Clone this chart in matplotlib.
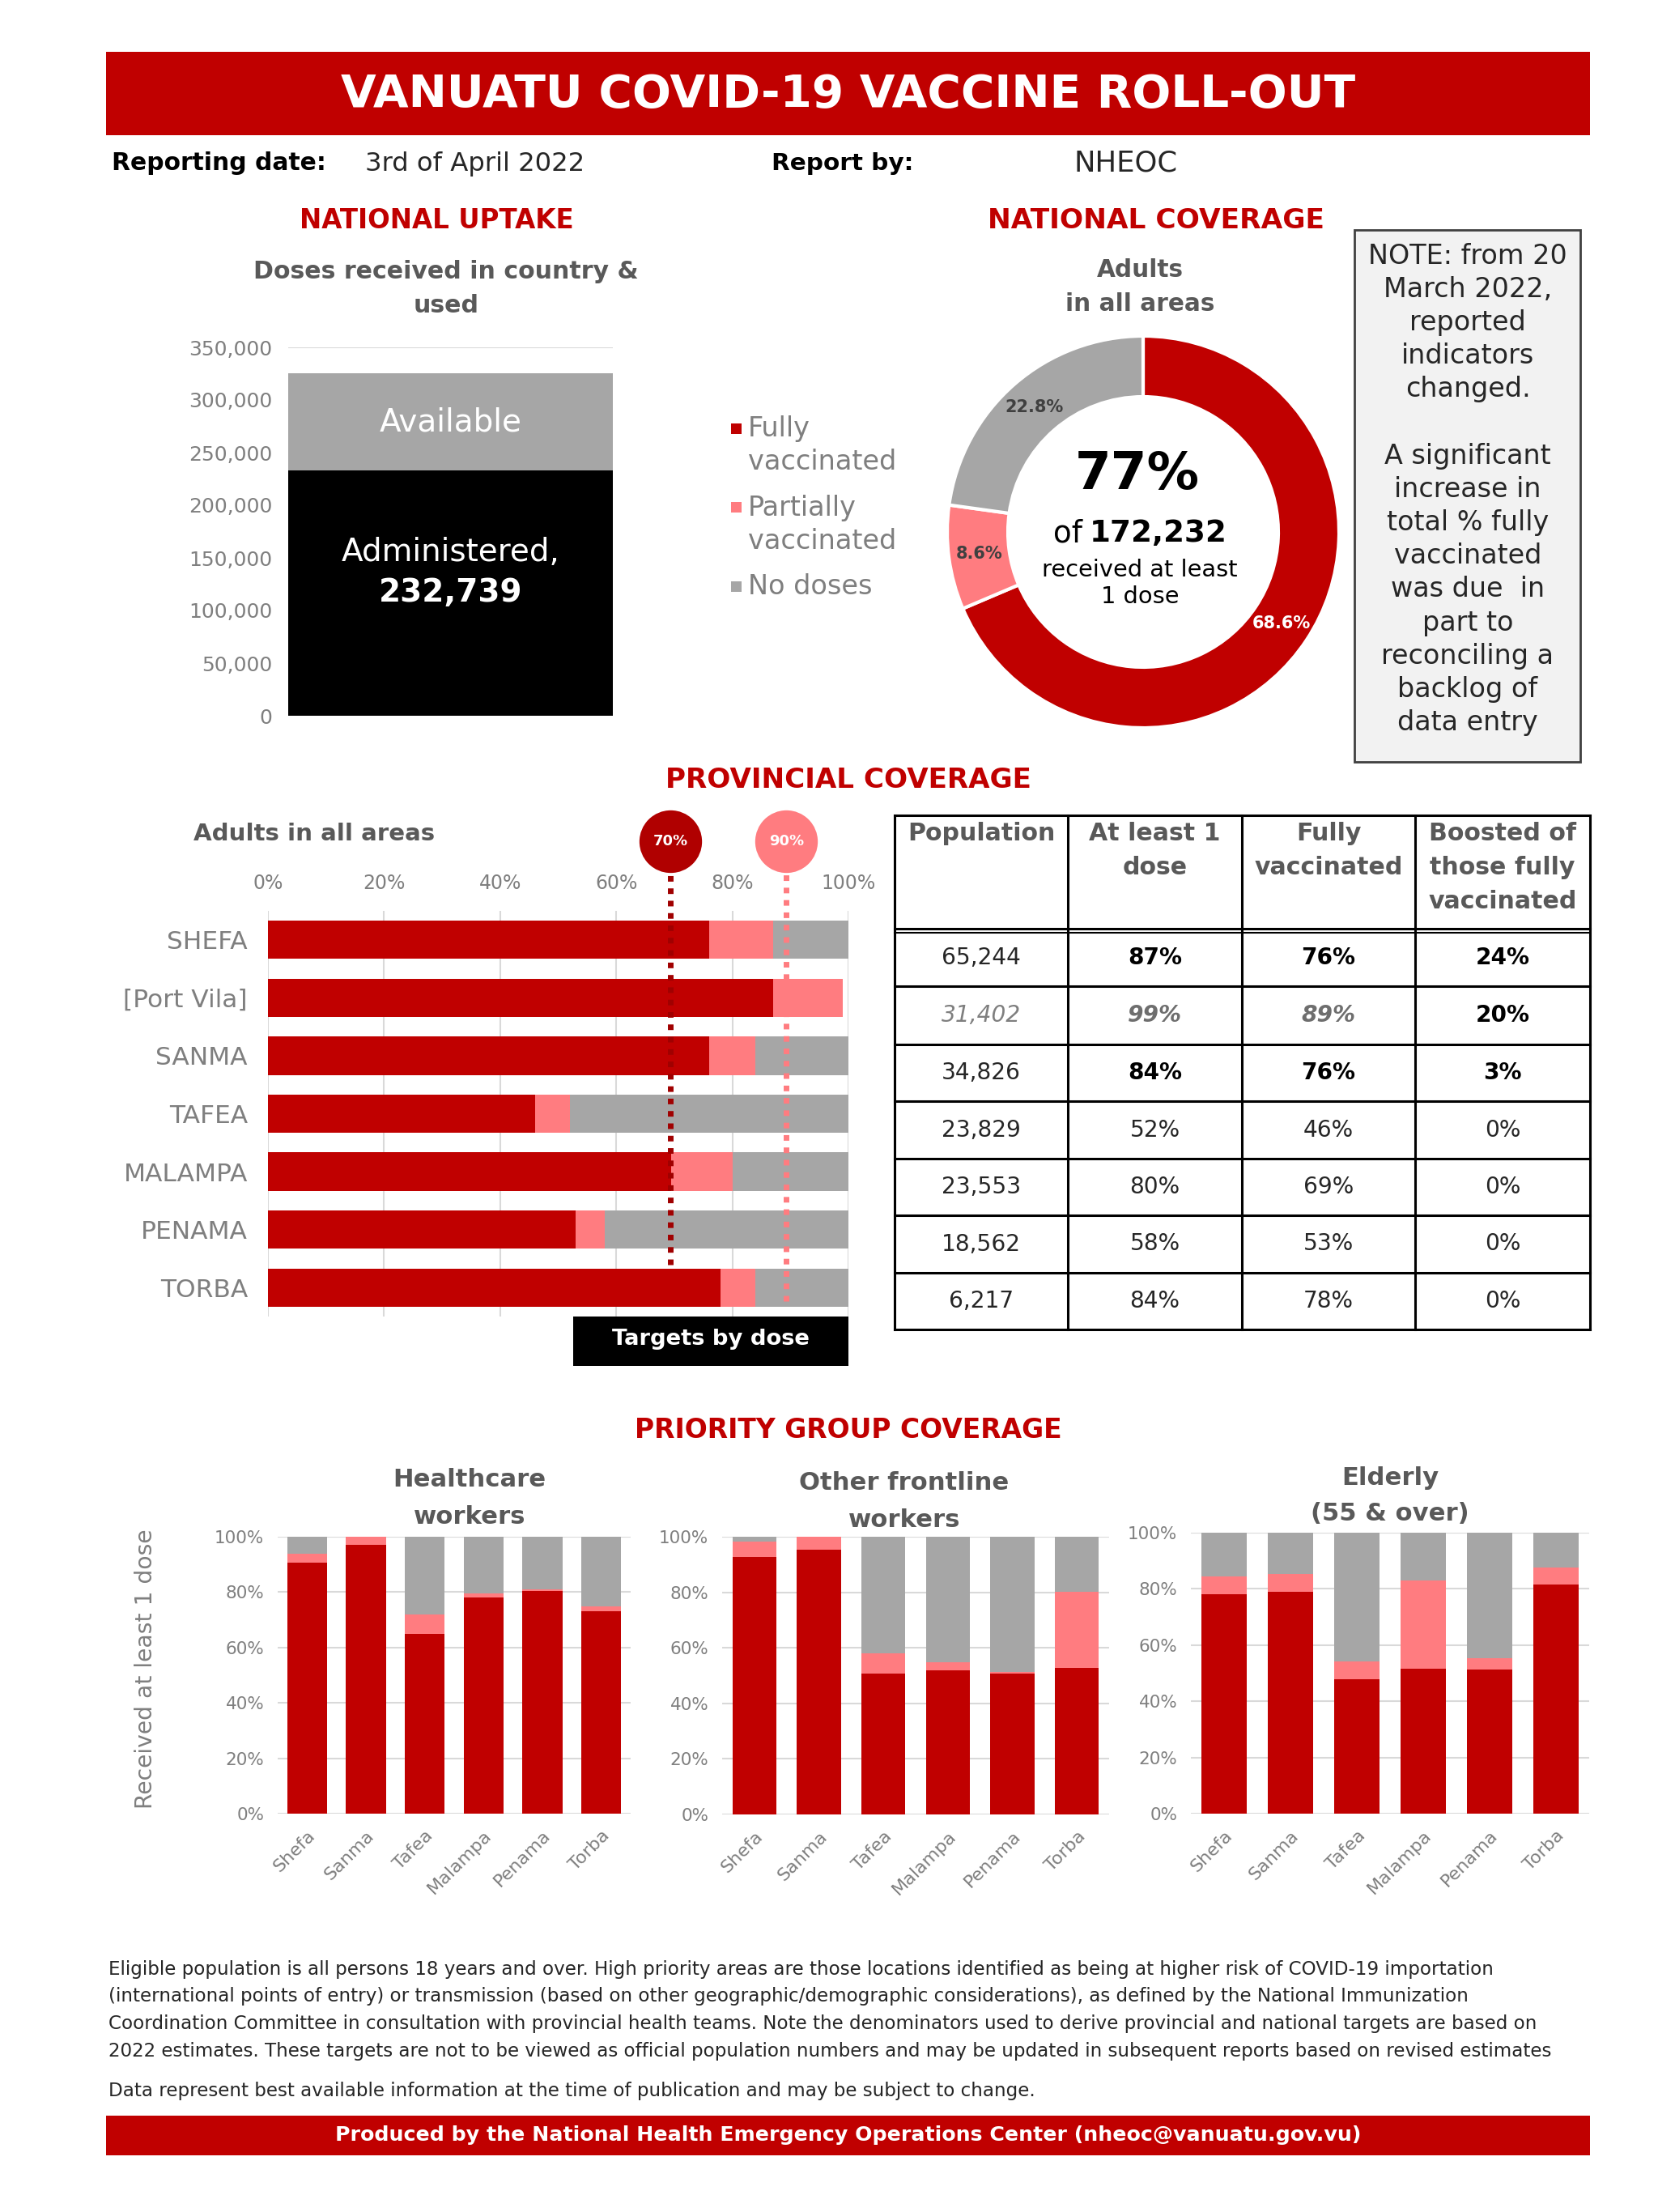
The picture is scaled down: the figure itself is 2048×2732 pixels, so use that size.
import matplotlib
matplotlib.use('Agg')
import matplotlib.pyplot as plt
from matplotlib.patches import Rectangle
from matplotlib.transforms import blended_transform_factory
from matplotlib.ticker import FuncFormatter

plt.rcParams['font.family'] = ['DejaVu Sans']

# ---------------- DATA ----------------
uptake_administered = 232739
uptake_available = 92900

donut_labels = ['Fully\nvaccinated', 'Partially\nvaccinated', 'No doses']
donut_values = [68.6, 8.6, 22.8]
center_pct = '77%'
center_total = '172,232'

provinces = ['SHEFA', '[Port Vila]', 'SANMA', 'TAFEA', 'MALAMPA', 'PENAMA', 'TORBA']
prov_fully = [76, 87, 76, 46, 69.5, 53, 78]
prov_partial = [11, 12, 8, 6, 10.5, 5, 6]
prov_none = [13, 0, 16, 48, 20, 42, 16]
target_values = [70, 90]
prov_ticks = [0, 20, 40, 60, 80, 100]

table_header = ['Population', 'At least 1\ndose', 'Fully\nvaccinated', 'Boosted of\nthose fully\nvaccinated']
table_population = ['65,244', '31,402', '34,826', '23,829', '23,553', '18,562', '6,217']
table_atleast1 = ['87%', '99%', '84%', '52%', '80%', '58%', '84%']
table_fully = ['76%', '89%', '76%', '46%', '69%', '53%', '78%']
table_boosted = ['24%', '20%', '3%', '0%', '0%', '0%', '0%']

groups = ['Shefa', 'Sanma', 'Tafea', 'Malampa', 'Penama', 'Torba']
hcw_fully = [90.5, 97, 65, 78, 80.5, 73]
hcw_partial = [3.5, 3, 7, 1.5, 0.5, 2]
hcw_none = [6, 0, 28, 20.5, 19, 25]
ofw_fully = [92.8, 95.4, 50.7, 51.8, 50.7, 52.7]
ofw_partial = [5.5, 4.6, 7.3, 3.1, 0.7, 27.5]
ofw_none = [1.7, 0, 42, 45.1, 48.6, 19.8]
eld_fully = [78.2, 78.9, 47.9, 51.7, 51.2, 81.5]
eld_partial = [6.2, 6.4, 6.2, 31.4, 4.2, 6.0]
eld_none = [15.6, 14.7, 45.9, 16.9, 44.6, 12.5]
pct_ticks = [0, 20, 40, 60, 80, 100]

# ---------------- STYLE ----------------
RED = '#C00000'
PINK = '#FF7C80'
GRAY = '#A6A6A6'
DTXT = '#595959'
LTXT = '#7F7F7F'
GRID = '#D9D9D9'

W, H = 2048, 2732
fig = plt.figure(figsize=(W / 100, H / 100), dpi=100)
fig.patch.set_facecolor('white')
renderer = fig.canvas.get_renderer()


def rect(x0, y0, x1, y1):
    return [x0 / W, 1 - y1 / H, (x1 - x0) / W, (y1 - y0) / H]


def T(x, y, s, size=20, width=None, height=None, ha='center', va='center', **kw):
    t = fig.text(x / W, 1 - y / H, s, ha=ha, va=va, fontsize=size, **kw)
    if width or height:
        bb = t.get_window_extent(renderer)
        if width:
            t.set_fontsize(size * width / bb.width)
        else:
            t.set_fontsize(size * height / bb.height)
    return t


# overlay axes in pixel coords for shapes
pax = fig.add_axes([0, 0, 1, 1], zorder=-1)
pax.set_xlim(0, W)
pax.set_ylim(H, 0)
pax.axis('off')

# ---------------- HEADER ----------------
pax.add_patch(Rectangle((131, 64), 1833, 103, color=RED, lw=0))
T(1048, 117, 'VANUATU COVID-19 VACCINE ROLL-OUT', width=1250, color='white', weight='bold')

T(138, 202, 'Reporting date:', width=265, ha='left', weight='bold', color='black')
T(451, 202, '3rd of April 2022', width=272, ha='left', color='#262626')
T(953, 202, 'Report by:', width=175, ha='left', weight='bold', color='black')
T(1326, 202, 'NHEOC', width=128, ha='left', color='#262626')

T(539, 272, 'NATIONAL UPTAKE', width=338, color=RED, weight='bold')
T(1428, 272, 'NATIONAL COVERAGE', width=415, color=RED, weight='bold')

t = T(551, 335, 'Doses received in country &', width=476, color=DTXT, weight='bold')
T(551, 378, 'used', size=t.get_fontsize(), color=DTXT, weight='bold')

t = T(1408, 376, 'in all areas', width=185, color=DTXT, weight='bold')
T(1408, 333, 'Adults', size=t.get_fontsize(), color=DTXT, weight='bold')

# ---------------- NATIONAL UPTAKE BAR ----------------
ax1 = fig.add_axes(rect(356, 429, 757, 884))
ax1.bar([0], [uptake_administered], width=1.0, color='black', zorder=2)
ax1.bar([0], [uptake_available], bottom=[uptake_administered], width=1.0, color=GRAY, zorder=2)
ax1.set_xlim(-0.5, 0.5)
ax1.set_ylim(0, 350000)
ax1.set_yticks(range(0, 350001, 50000))
ax1.yaxis.set_major_formatter(FuncFormatter(lambda v, p: f'{int(v):,}'))
ax1.tick_params(axis='y', length=0, labelsize=18, labelcolor=LTXT, pad=14)
ax1.set_xticks([])
ax1.grid(axis='y', color=GRID, lw=1.5, zorder=0)
for s in ax1.spines.values():
    s.set_visible(False)
ax1.text(0, uptake_administered + uptake_available / 2, 'Available', ha='center', va='center',
         color='white', fontsize=28)
ax1.text(0, 155000, 'Administered,', ha='center', va='center', color='white', fontsize=28)
ax1.text(0, 117000, f'{uptake_administered:,}', ha='center', va='center', color='white',
         fontsize=28, weight='bold')

# ---------------- LEGEND ----------------
leg_items = [(donut_labels[0], RED, 530), (donut_labels[1], PINK, 627), (donut_labels[2], GRAY, 725)]
lt = T(924, 570, 'vaccinated', width=183, ha='left', color=LTXT)
lfs = lt.get_fontsize()
lt.remove()
for lab, col, yy in leg_items:
    pax.add_patch(Rectangle((903, yy - 7), 13, 13, color=col, lw=0))
    for k, line in enumerate(lab.split('\n')):
        T(924, yy + 41 * k, line, size=lfs, ha='left', color=LTXT)

# ---------------- DONUT ----------------
R = 242
cx, cy = 1412, 657
ax2 = fig.add_axes(rect(cx - R, cy - R, cx + R, cy + R))
wedges, texts, autotexts = ax2.pie(donut_values, colors=[RED, PINK, GRAY], startangle=90,
                                   counterclock=False, radius=1,
                                   wedgeprops=dict(width=0.31, edgecolor='white', linewidth=3),
                                   autopct='%.1f%%', pctdistance=0.845)
ax2.set_xlim(-1, 1)
ax2.set_ylim(-1, 1)
for i, at in enumerate(autotexts):
    at.set_fontsize(15)
    at.set_color('white' if i == 0 else '#404040')
    at.set_weight('bold')

T(1405, 586, center_pct, width=154, weight='bold', color='black')
t = T(1346, 659, center_total, width=170, ha='left', weight='bold', color='black')
T(1337, 659, 'of', size=t.get_fontsize(), ha='right', color='black')
t = T(1408, 704, 'received at least', width=241, color='black')
T(1408, 737, '1 dose', size=t.get_fontsize(), color='black')

# ---------------- NOTE BOX ----------------
pax.add_patch(Rectangle((1673, 284), 279, 657, facecolor='#F2F2F2', edgecolor='#404040', lw=2))
note_lines = ['NOTE: from 20', 'March 2022,', 'reported', 'indicators', 'changed.', '',
              'A significant', 'increase in', 'total % fully', 'vaccinated', 'was due  in',
              'part to', 'reconciling a', 'backlog of', 'data entry']
nt = T(1813, 800, 'reconciling a', width=213, color='#262626')
nfs = nt.get_fontsize()
nt.remove()
for i, line in enumerate(note_lines):
    if line:
        T(1813, 316 + i * 41.2, line, size=nfs, color='#262626')

# ---------------- PROVINCIAL ----------------
T(1048, 964, 'PROVINCIAL COVERAGE', width=451, color=RED, weight='bold')
T(239, 1030, 'Adults in all areas', width=298, ha='left', color=DTXT, weight='bold')

ax3 = fig.add_axes(rect(331, 1125, 1048, 1626))
yy = list(range(len(provinces)))
left2 = [a + b for a, b in zip(prov_fully, prov_partial)]
ax3.barh(yy, prov_fully, height=0.66, color=RED, zorder=2)
ax3.barh(yy, prov_partial, left=prov_fully, height=0.66, color=PINK, zorder=2)
ax3.barh(yy, prov_none, left=left2, height=0.66, color=GRAY, zorder=2)
ax3.set_xlim(0, 100)
ax3.set_ylim(len(provinces) - 0.5, -0.5)
ax3.set_yticks(yy)
ax3.set_yticklabels(provinces)
ax3.set_xticks(prov_ticks)
ax3.set_xticklabels([f'{v}%' for v in prov_ticks])
ax3.xaxis.tick_top()
ax3.tick_params(axis='x', length=0, labelsize=17, labelcolor=LTXT, pad=16)
ax3.tick_params(axis='y', length=0, labelsize=22.5, labelcolor=LTXT, pad=18)
ax3.grid(axis='x', color=GRID, lw=1.5, zorder=0)
for s in ax3.spines.values():
    s.set_visible(False)

btr = blended_transform_factory(ax3.transData, ax3.transAxes)
ax3.plot([target_values[0] - 0.7] * 2, [0.128, 1.106], transform=btr, color='#A00000', lw=5,
         ls=(0, (1, 1.2)), zorder=5, clip_on=False)
ax3.plot([target_values[1] - 0.7] * 2, [0.038, 1.106], transform=btr, color=PINK, lw=5,
         ls=(0, (1, 1.2)), zorder=5, clip_on=False)
for v, col in zip(target_values, ['#B00000', PINK]):
    ax3.scatter([v - 0.7], [1.172], s=3100, color=col, transform=btr, clip_on=False, zorder=6, lw=0)
    ax3.text(v - 0.7, 1.172, f'{v}%', transform=btr, ha='center', va='center', color='white',
             fontsize=13, weight='bold', zorder=7)

pax.add_patch(Rectangle((708, 1621), 340, 66, color='black', lw=0))
T(878, 1654, 'Targets by dose', width=244, color='white', weight='bold')

# ---------------- TABLE ----------------
col_x = [1105, 1319, 1534, 1748, 1964]
row_y = [1007, 1147, 1218, 1290, 1360, 1431, 1501, 1572, 1642]
for x in col_x:
    pax.plot([x, x], [row_y[0], row_y[-1]], color='black', lw=2.2, solid_capstyle='projecting')
for y in row_y:
    pax.plot([col_x[0], col_x[-1]], [y, y], color='black', lw=2.2, solid_capstyle='projecting')
pax.plot([col_x[0], col_x[-1]], [row_y[1] + 5, row_y[1] + 5], color='black', lw=1.5)

ht = T(1641, 1072, 'vaccinated', width=184, color=DTXT, weight='bold')
hfs = ht.get_fontsize()
ht.remove()
for j, head in enumerate(table_header):
    xc = (col_x[j] + col_x[j + 1]) / 2
    for k, line in enumerate(head.split('\n')):
        T(xc, 1030 + k * 42, line, size=hfs, color=DTXT, weight='bold')

ct = T(1213, 1183, table_population[0], width=98, color='#262626')
cfs = ct.get_fontsize()
ct.remove()
columns = [table_population, table_atleast1, table_fully, table_boosted]
for i in range(len(table_population)):
    yc = (row_y[i + 1] + row_y[i + 2]) / 2
    for j, col in enumerate(columns):
        xc = (col_x[j] + col_x[j + 1]) / 2
        kw = dict(color='#262626', weight='normal', style='normal')
        if i in (0, 2) and j > 0:
            kw.update(color='black', weight='bold')
        if i == 1:
            if j == 0:
                kw.update(color=LTXT, style='italic')
            elif j in (1, 2):
                kw.update(color='#6E6E6E', weight='bold', style='italic')
            else:
                kw.update(color='black', weight='bold')
        T(xc, yc, col[i], size=cfs, **kw)

# ---------------- PRIORITY GROUPS ----------------
T(1048, 1766, 'PRIORITY GROUP COVERAGE', width=527, color=RED, weight='bold')

charts = [
    ((343, 1898, 779, 2240), 'Healthcare\nworkers', (580, 1828), hcw_fully, hcw_partial, hcw_none),
    ((892, 1898, 1370, 2241), 'Other frontline\nworkers', (1117, 1832), ofw_fully, ofw_partial, ofw_none),
    ((1471, 1893, 1963, 2240), 'Elderly\n(55 & over)', (1717, 1825), eld_fully, eld_partial, eld_none),
]
st = T(580, 1828, 'Healthcare', width=189, color=DTXT, weight='bold')
sfs = st.get_fontsize()
st.remove()
for (x0, y0, x1, y1), title, (tx, ty), f, p, n in charts:
    ax = fig.add_axes(rect(x0, y0, x1, y1))
    xs = list(range(len(groups)))
    b2 = [a + b for a, b in zip(f, p)]
    ax.bar(xs, f, width=0.68, color=RED, zorder=2)
    ax.bar(xs, p, bottom=f, width=0.68, color=PINK, zorder=2)
    ax.bar(xs, n, bottom=b2, width=0.68, color=GRAY, zorder=2)
    ax.set_xlim(-0.5, len(groups) - 0.5)
    ax.set_ylim(0, 100)
    ax.set_yticks(pct_ticks)
    ax.set_yticklabels([f'{v}%' for v in pct_ticks])
    ax.set_xticks(xs)
    ax.set_xticklabels(groups, rotation=45, ha='right', rotation_mode='anchor')
    ax.tick_params(axis='y', length=0, labelsize=15.5, labelcolor=LTXT, pad=12)
    ax.tick_params(axis='x', length=0, labelsize=16, labelcolor=LTXT, pad=12)
    ax.grid(axis='y', color=GRID, lw=1.5, zorder=0)
    for s in ax.spines.values():
        s.set_visible(False)
    for k, line in enumerate(title.split('\n')):
        T(tx, ty + k * 45, line, size=sfs, color=DTXT, weight='bold')

T(180, 2061, 'Received at least 1 dose', height=346, rotation=90, color=LTXT)

# ---------------- FOOTER ----------------
foot = [
    'Eligible population is all persons 18 years and over. High priority areas are those locations identified as being at higher risk of COVID-19 importation',
    '(international points of entry) or transmission (based on other geographic/demographic considerations), as defined by the National Immunization',
    'Coordination Committee in consultation with provincial health teams. Note the denominators used to derive provincial and national targets are based on',
    '2022 estimates. These targets are not to be viewed as official population numbers and may be updated in subsequent reports based on revised estimates',
]
ft = T(134, 2533, foot[3], width=1782, ha='left', color='#262626')
ffs = ft.get_fontsize()
ft.remove()
for i, line in enumerate(foot):
    T(134, 2432 + i * 33.7, line, size=ffs, ha='left', color='#262626')
T(134, 2583, 'Data represent best available information at the time of publication and may be subject to change.',
  size=ffs, ha='left', color='#262626')

pax.add_patch(Rectangle((131, 2613), 1833, 49, color=RED, lw=0))
T(1048, 2637, 'Produced by the National Health Emergency Operations Center (nheoc@vanuatu.gov.vu)',
  width=1264, color='white', weight='bold')

fig.savefig('out.png', dpi=100, facecolor='white')
